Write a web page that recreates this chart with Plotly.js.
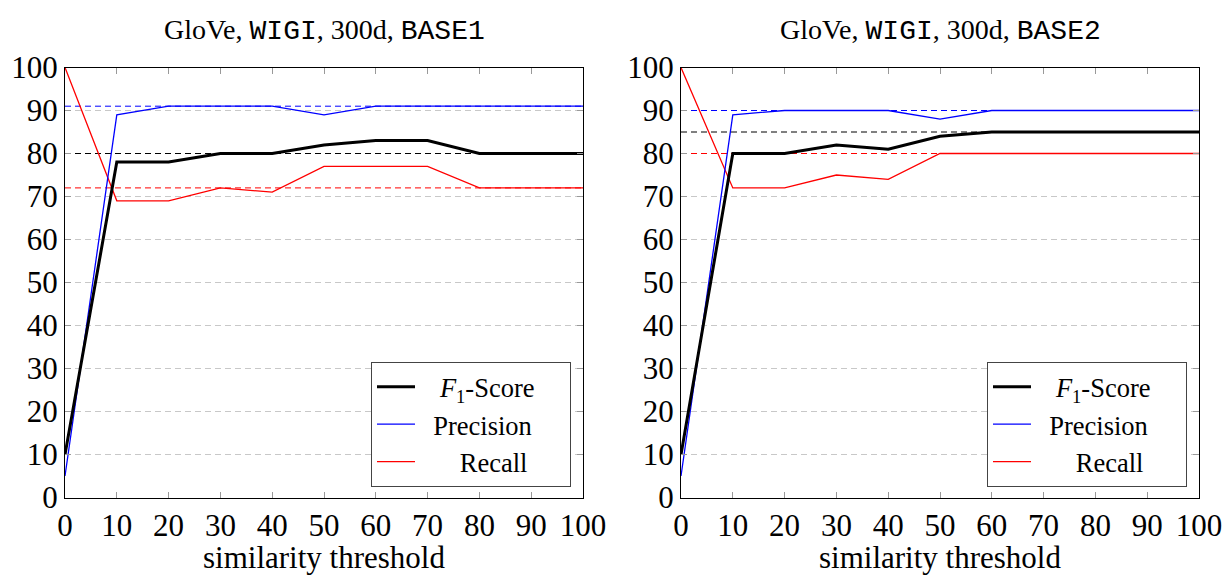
<!DOCTYPE html>
<html>
<head>
<meta charset="utf-8">
<script src="https://cdn.plot.ly/plotly-3.0.1.min.js"></script>
<style>html,body{margin:0;padding:0;background:#fff;}</style>
</head>
<body>
<div id="chart" style="width:1223px;height:575px;"></div>
<script>
const thresholds = [0, 10, 20, 30, 40, 50, 60, 70, 80, 90, 100];
const yTicks = [0, 10, 20, 30, 40, 50, 60, 70, 80, 90, 100];

const f1Base1 = [10, 78, 78, 80, 80, 82, 83, 83, 80, 80, 80];
const precBase1 = [5, 89, 91, 91, 91, 89, 91, 91, 91, 91, 91];
const recBase1 = [100, 69, 69, 72, 71, 77, 77, 77, 72, 72, 72];
const baselineBase1 = {f1: 80, prec: 91, rec: 72};

const f1Base2 = [10, 80, 80, 82, 81, 84, 85, 85, 85, 85, 85];
const precBase2 = [5, 89, 90, 90, 90, 88, 90, 90, 90, 90, 90];
const recBase2 = [100, 72, 72, 75, 74, 80, 80, 80, 80, 80, 80];
const baselineBase2 = {f1: 85, prec: 90, rec: 80};

const mono = "font-family:'Liberation Mono', 'DejaVu Sans Mono', monospace";
const titles = ['GloVe, <span style="' + mono + '">WIGI</span>, 300d, <span style="' + mono + '">BASE1</span>',
                'GloVe, <span style="' + mono + '">WIGI</span>, 300d, <span style="' + mono + '">BASE2</span>'];
const sp = (n) => '\u00a0'.repeat(n);
const seriesNames = [sp(3) + '<i>F</i><sub>1</sub>-Score', sp(2) + 'Precision' + sp(5), sp(6) + 'Recall'];
const xTitle = 'similarity threshold';

const serif = "'Liberation Serif', 'Times New Roman', serif";
const W = 1223, H = 575;

function panel(f1, prec, rec, base, xa, ya, legend) {
  const xs = [thresholds[0], thresholds[thresholds.length - 1]];
  return [
    {x: xs, y: [base.prec, base.prec], xaxis: xa, yaxis: ya, mode: 'lines', showlegend: false, hoverinfo: 'skip',
     line: {color: '#0000ff', width: 1, dash: '6px,4px'}},
    {x: xs, y: [base.f1, base.f1], xaxis: xa, yaxis: ya, mode: 'lines', showlegend: false, hoverinfo: 'skip',
     line: {color: '#000000', width: 1, dash: '6px,4px'}},
    {x: xs, y: [base.rec, base.rec], xaxis: xa, yaxis: ya, mode: 'lines', showlegend: false, hoverinfo: 'skip',
     line: {color: '#ff0000', width: 1, dash: '6px,4px'}},
    {x: thresholds, y: rec, xaxis: xa, yaxis: ya, mode: 'lines', name: seriesNames[2], legend: legend, legendrank: 3,
     line: {color: '#ff0000', width: 1.3}},
    {x: thresholds, y: prec, xaxis: xa, yaxis: ya, mode: 'lines', name: seriesNames[1], legend: legend, legendrank: 2,
     line: {color: '#0000ff', width: 1.3}},
    {x: thresholds, y: f1, xaxis: xa, yaxis: ya, mode: 'lines', name: seriesNames[0], legend: legend, legendrank: 1,
     line: {color: '#000000', width: 3}}
  ];
}

const data = [].concat(
  panel(f1Base1, precBase1, recBase1, baselineBase1, 'x', 'y', 'legend'),
  panel(f1Base2, precBase2, recBase2, baselineBase2, 'x2', 'y2', 'legend2')
);

const yDom = [(H - 497.5) / H, (H - 67.5) / H];
function xaxis(dom, anchor) {
  return {domain: dom, anchor: anchor, range: [0, 100], tickvals: thresholds, ticks: 'inside', ticklen: 6,
          tickcolor: '#999', tickwidth: 1, showline: true, linecolor: '#000', linewidth: 1, mirror: 'allticks',
          showgrid: false, zeroline: false, tickfont: {family: serif, size: 31, color: '#000'}};
}
function yaxis(anchor) {
  return {domain: yDom, anchor: anchor, range: [0, 100], tickvals: yTicks, ticks: 'inside', ticklen: 6,
          tickcolor: '#999', tickwidth: 1, showline: true, linecolor: '#000', linewidth: 1, mirror: 'allticks',
          showgrid: true, gridcolor: '#c8c8c8', griddash: '6px,4px', gridwidth: 1, zeroline: false,
          tickfont: {family: serif, size: 31, color: '#000'}};
}

const legendStyle = (x0) => ({x: x0, y: (H - 362) / H, xanchor: 'left', yanchor: 'top', xref: 'paper', yref: 'paper',
  bgcolor: '#fff', bordercolor: '#444', borderwidth: 1, font: {family: serif, size: 26.5, color: '#000'},
  tracegroupgap: 0, itemwidth: 38, traceorder: 'normal'});

const c1 = (65 + 583) / 2 / W, c2 = (681 + 1199) / 2 / W;
const ann = (text, x, yPx, size, anchor) => ({text: text, x: x, y: (H - yPx) / H, xref: 'paper', yref: 'paper',
  showarrow: false, xanchor: 'center', yanchor: anchor, borderpad: 0, font: {family: serif, size: size, color: '#000'}});

const layout = {
  width: W, height: H, margin: {l: 0, r: 0, t: 0, b: 0},
  paper_bgcolor: '#fff', plot_bgcolor: '#fff',
  font: {family: serif, color: '#000'},
  xaxis: xaxis([65 / W, 583 / W], 'y'),
  yaxis: yaxis('x'),
  xaxis2: xaxis([681 / W, 1199 / W], 'y2'),
  yaxis2: yaxis('x2'),
  legend: legendStyle(371 / W),
  legend2: legendStyle(987 / W),
  annotations: [
    ann(titles[0], c1, 30, 28, 'middle'),
    ann(titles[1], c2, 30, 28, 'middle'),
    ann(xTitle, c1, 576, 31, 'bottom'),
    ann(xTitle, c2, 576, 31, 'bottom')
  ],
  showlegend: true
};

Plotly.newPlot('chart', data, layout, {displayModeBar: false, staticPlot: true});
</script>
</body>
</html>
